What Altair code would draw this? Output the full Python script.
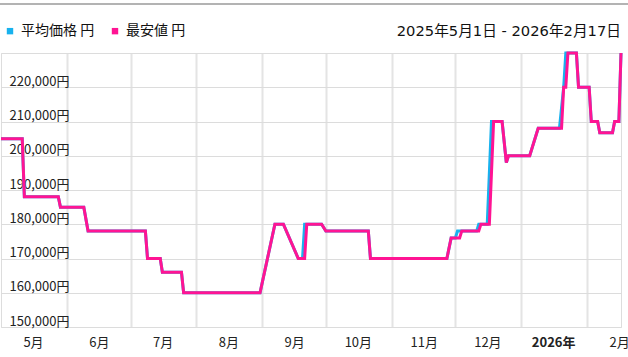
import altair as alt
import pandas as pd

FONT = "Noto Sans CJK JP"
WIDE_FONT = "'DejaVu Sans', 'Noto Sans CJK JP'"

series_names = ["平均価格 円", "最安値 円"]
series_colors = ["#18b2ee", "#ff1493"]

min_dates = [
    "2025-05-01", "2025-05-11", "2025-05-12", "2025-05-28", "2025-05-29",
    "2025-06-09", "2025-06-11", "2025-07-08", "2025-07-09", "2025-07-15",
    "2025-07-16", "2025-07-25", "2025-07-26", "2025-08-31", "2025-09-07",
    "2025-09-11", "2025-09-18", "2025-09-21", "2025-09-22", "2025-09-29",
    "2025-10-01", "2025-10-21", "2025-10-22", "2025-11-27", "2025-11-29",
    "2025-12-03", "2025-12-04", "2025-12-12", "2025-12-13", "2025-12-17",
    "2025-12-19", "2025-12-23", "2025-12-25", "2025-12-26", "2026-01-05",
    "2026-01-09", "2026-01-20", "2026-01-21", "2026-01-22", "2026-01-23",
    "2026-01-27", "2026-01-28", "2026-02-02", "2026-02-03", "2026-02-06",
    "2026-02-07", "2026-02-13", "2026-02-14", "2026-02-16", "2026-02-17",
]
min_prices = [
    205000, 205000, 188000, 188000, 185000,
    185000, 178000, 178000, 170000, 170000,
    166000, 166000, 160000, 160000, 180000,
    180000, 170000, 170000, 180000, 180000,
    178000, 178000, 170000, 170000, 176000,
    176000, 178000, 178000, 180000, 180000,
    210000, 210000, 198000, 200000, 200000,
    208000, 208000, 220000, 220000, 230000,
    230000, 220000, 220000, 210000, 210000,
    206700, 206700, 210000, 210000, 230000,
]

avg_dates = [
    "2025-05-01", "2025-05-11", "2025-05-12", "2025-05-28", "2025-05-29",
    "2025-06-09", "2025-06-11", "2025-07-08", "2025-07-09", "2025-07-15",
    "2025-07-16", "2025-07-25", "2025-07-26", "2025-08-31", "2025-09-07",
    "2025-09-11", "2025-09-18", "2025-09-20", "2025-09-21", "2025-09-29",
    "2025-10-01", "2025-10-21", "2025-10-22", "2025-11-27", "2025-11-29",
    "2025-12-01", "2025-12-02", "2025-12-11", "2025-12-12", "2025-12-16",
    "2025-12-18", "2025-12-23", "2025-12-25", "2025-12-26", "2026-01-05",
    "2026-01-09", "2026-01-19", "2026-01-21", "2026-01-22",
    "2026-01-27", "2026-01-28", "2026-02-02", "2026-02-03", "2026-02-06",
    "2026-02-07", "2026-02-13", "2026-02-14", "2026-02-16", "2026-02-17",
]
avg_prices = [
    205000, 205000, 188000, 188000, 185000,
    185000, 178000, 178000, 170000, 170000,
    166000, 166000, 160000, 160000, 180000,
    180000, 170000, 170000, 180000, 180000,
    178000, 178000, 170000, 170000, 176000,
    176000, 178000, 178000, 180000, 180000,
    210000, 210000, 198000, 200000, 200000,
    208000, 208000, 220000, 230000,
    230000, 220000, 220000, 210000, 210000,
    206700, 206700, 210000, 210000, 230000,
]

y_ticks = [150000, 160000, 170000, 180000, 190000, 200000, 210000, 220000, 230000]
month_starts = [(2025, m) for m in range(5, 13)] + [(2026, 1), (2026, 2)]
range_text = "2025年5月1日 - 2026年2月17日"

df_min = pd.DataFrame({"date": min_dates, "price": min_prices, "series": series_names[1]})
df_avg = pd.DataFrame({"date": avg_dates, "price": avg_prices, "series": series_names[0]})

x_scale = alt.Scale(
    type="utc",
    domain=[alt.DateTime(year=2025, month=5, date=1, utc=True),
            alt.DateTime(year=2026, month=2, date=17, utc=True)],
)
y_scale = alt.Scale(domain=[150000, 230000], nice=False, zero=False)

x_axis = alt.Axis(
    title=None,
    values=[alt.DateTime(year=y, month=m, date=1, utc=True) for y, m in month_starts],
    labelExpr="utcmonth(datum.value)==0 ? utcyear(datum.value)+'年' : (utcmonth(datum.value)+1)+'月'",
    labelFontWeight={"condition": {"test": "utcmonth(datum.value)==0", "value": "bold"}, "value": "normal"},
    gridOpacity={"condition": {"test": "utcmonth(datum.value)==4 && utcyear(datum.value)==2025", "value": 0}, "value": 1},
    labelOffset=32,
    labelPadding=9,
    labelFlush=False,
    labelOverlap=False,
    ticks=False,
    domain=False,
    grid=True,
    gridColor="#e4e4e4",
    gridWidth=2,
    labelFont=FONT,
    labelFontSize=13,
    labelColor="#222222",
)
y_axis = alt.Axis(
    title=None,
    values=y_ticks,
    labelExpr="datum.value >= 230000 ? '' : format(datum.value, ',') + '円'",
    labelAlign="left",
    labelBaseline="alphabetic",
    labelPadding=-8,
    labelOffset=-2,
    ticks=False,
    domain=False,
    grid=True,
    gridColor="#dcdcdc",
    gridWidth=1.2,
    labelFont=FONT,
    labelFontSize=13,
    labelColor="#222222",
)

color = alt.Color(
    "series:N",
    scale=alt.Scale(domain=series_names, range=series_colors),
    legend=alt.Legend(
        title=None,
        orient="none",
        legendX=2,
        legendY=-29,
        direction="horizontal",
        symbolType="square",
        symbolSize=2,
        symbolStrokeWidth=5,
        labelFont=FONT,
        labelFontSize=14,
        labelColor="#111111",
        labelOffset=4,
        columnPadding=9,
        labelLimit=200,
    ),
)

def line_layer(df):
    return alt.Chart(df).mark_line(strokeWidth=3, interpolate="linear").encode(
        x=alt.X("date:T", scale=x_scale, axis=x_axis),
        y=alt.Y("price:Q", scale=y_scale, axis=y_axis),
        color=color,
    )

avg_line = line_layer(df_avg)
min_line = line_layer(df_min)

top_rule = alt.Chart(pd.DataFrame({"a": [0]})).mark_rule(color="#9a9a9a", strokeWidth=1.5).encode(
    x=alt.value(-2), x2=alt.value(628), y=alt.value(-49)
)
range_label = alt.Chart(pd.DataFrame({"t": [range_text]})).mark_text(
    align="right", baseline="middle", font=WIDE_FONT, fontSize=14.7, color="#111111"
).encode(text="t:N", x=alt.value(620), y=alt.value(-21))

chart = alt.layer(avg_line, min_line, top_rule, range_label).properties(
    width=620,
    height=274,
    autosize=alt.AutoSizeParams(type="none"),
    padding={"left": 1, "top": 53, "right": 7, "bottom": 30},
).configure_view(stroke=None).configure(background="white")

chart.save("out.html", embed_options={"renderer": "svg", "actions": False})
